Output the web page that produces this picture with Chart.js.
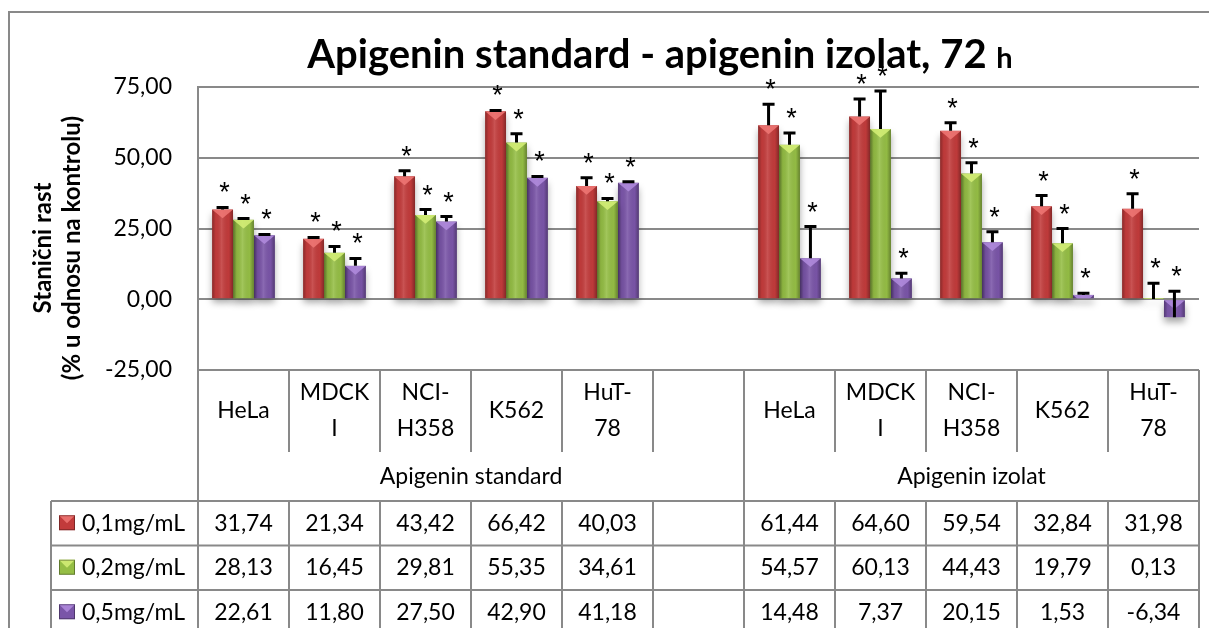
<!DOCTYPE html>
<html>
<head>
<meta charset="utf-8">
<script src="https://cdn.jsdelivr.net/npm/chart.js@4.4.1/dist/chart.umd.min.js"></script>
<style>
  html, body { margin: 0; padding: 0; background: #fff; }
  #wrap { width: 1209px; height: 628px; }
</style>
</head>
<body>
<div id="wrap"><canvas id="rastChart" width="1209" height="628"></canvas></div>
<script>
// --- podaci ---
const categories = ['HeLa', ['MDCK', 'I'], ['NCI-', 'H358'], 'K562', ['HuT-', '78'], '',
                    'HeLa', ['MDCK', 'I'], ['NCI-', 'H358'], 'K562', ['HuT-', '78']];
const groupLabels = ['Apigenin standard', 'Apigenin izolat'];
const groupSpans = [6, 5];
const seriesNames = ['0,1mg/mL', '0,2mg/mL', '0,5mg/mL'];

const values01 = [31.74, 21.34, 43.42, 66.42, 40.03, null, 61.44, 64.60, 59.54, 32.84, 31.98];
const values02 = [28.13, 16.45, 29.81, 55.35, 34.61, null, 54.57, 60.13, 44.43, 19.79, 0.13];
const values05 = [22.61, 11.80, 27.50, 42.90, 41.18, null, 14.48, 7.37, 20.15, 1.53, -6.34];

// standardna devijacija (procjena s grafa)
const err01 = [0.7, 0.5, 2.0, 0.3, 2.9, null, 7.5, 6.2, 2.8, 3.8, 5.3];
const err02 = [0.4, 2.2, 1.9, 3.1, 1.0, null, 4.2, 13.5, 3.8, 5.2, 5.5];
const err05 = [0.3, 2.6, 1.7, 0.5, 0.3, null, 11.2, 1.8, 3.7, 0.6, 9.2];

const yTicks = [-25, 0, 25, 50, 75];
const titleMain = 'Apigenin standard - apigenin izolat, 72 ';
const titleUnit = 'h';
const yTitle = ['Stanični rast', '(% u odnosu na kontrolu)'];

const FONT = 'Lato, "Open Sans", sans-serif';
const LINE = '#898989';

const fmt = v => v.toFixed(2).replace('.', ',');

// okvir, naslov i naslov osi
const chartFrame = {
    id: 'chartFrame',
    beforeDraw(chart) {
        const ctx = chart.ctx;
        ctx.save();
        ctx.fillStyle = '#fff';
        ctx.fillRect(0, 0, chart.width, chart.height);
        ctx.strokeStyle = LINE;
        ctx.lineWidth = 2;
        ctx.strokeRect(9, 12, chart.width + 100, chart.height + 100);

        ctx.fillStyle = '#000';
        ctx.textBaseline = 'alphabetic';
        ctx.font = 'bold 40px ' + FONT;
        const w1 = ctx.measureText(titleMain).width;
        ctx.font = 'bold 29px ' + FONT;
        const w2 = ctx.measureText(titleUnit).width;
        const x0 = 660 - (w1 + w2) / 2;
        ctx.font = 'bold 40px ' + FONT;
        ctx.fillText(titleMain, x0, 68);
        ctx.font = 'bold 29px ' + FONT;
        ctx.fillText(titleUnit, x0 + w1, 68);

        ctx.font = 'bold 24px ' + FONT;
        ctx.textAlign = 'center';
        ctx.textBaseline = 'middle';
        ctx.translate(0, 248);
        ctx.rotate(-Math.PI / 2);
        ctx.fillText(yTitle[0], 0, 43);
        ctx.fillText(yTitle[1], 0, 72);
        ctx.restore();
    }
};

// sjena, sjencanje stupaca, error barovi i zvjezdice
const barDecor = {
    id: 'barDecor',
    beforeDatasetDraw(chart) {
        const ctx = chart.ctx;
        ctx.shadowColor = 'rgba(0,0,0,0.35)';
        ctx.shadowBlur = 7;
        ctx.shadowOffsetY = 5;
    },
    afterDatasetDraw(chart) {
        const ctx = chart.ctx;
        ctx.shadowColor = 'rgba(0,0,0,0)';
        ctx.shadowBlur = 0;
        ctx.shadowOffsetY = 0;
    },
    afterDatasetsDraw(chart) {
        const ctx = chart.ctx;
        const yScale = chart.scales.y;
        chart.data.datasets.forEach((ds, di) => {
            const meta = chart.getDatasetMeta(di);
            meta.data.forEach((bar, i) => {
                const v = ds.data[i];
                if (v === null) return;
                const w = bar.width;
                const left = bar.x - w / 2;
                const top = Math.min(bar.y, bar.base);
                const h = Math.abs(bar.base - bar.y);

                ctx.save();
                ctx.beginPath();
                ctx.rect(left, top, w, Math.max(h, 0.5));
                ctx.clip();
                const g = ctx.createLinearGradient(left, 0, left + w, 0);
                g.addColorStop(0, 'rgba(0,0,0,0.30)');
                g.addColorStop(0.18, 'rgba(0,0,0,0.02)');
                g.addColorStop(0.45, 'rgba(255,255,255,0.12)');
                g.addColorStop(0.8, 'rgba(0,0,0,0.02)');
                g.addColorStop(1, 'rgba(0,0,0,0.32)');
                ctx.fillStyle = g;
                ctx.fillRect(left, top, w, h);
                // svijetli trokut na vrhu
                ctx.fillStyle = ds.bevelColor;
                ctx.beginPath();
                ctx.moveTo(left, top);
                ctx.lineTo(left + w, top);
                ctx.lineTo(bar.x, top + w * 0.42);
                ctx.closePath();
                ctx.fill();
                ctx.restore();

                // error bar (+)
                const e = ds.errors[i];
                const yv = yScale.getPixelForValue(v);
                const ye = yScale.getPixelForValue(v + e);
                ctx.save();
                ctx.strokeStyle = '#000';
                ctx.lineWidth = 3;
                ctx.beginPath();
                ctx.moveTo(bar.x, yv);
                ctx.lineTo(bar.x, ye);
                ctx.moveTo(bar.x - 6, ye);
                ctx.lineTo(bar.x + 6, ye);
                ctx.stroke();
                ctx.fillStyle = '#000';
                ctx.font = '27px "Liberation Sans", sans-serif';
                ctx.textAlign = 'center';
                ctx.textBaseline = 'alphabetic';
                ctx.fillText('*', bar.x + 2, ye - 6);
                ctx.restore();
            });
        });
    }
};

// tablica s podacima ispod grafa
const dataTable = {
    id: 'dataTable',
    afterDraw(chart) {
        const ctx = chart.ctx;
        const xs = chart.scales.x;
        const area = chart.chartArea;
        const step = xs.getPixelForValue(1) - xs.getPixelForValue(0);
        const edge = k => xs.getPixelForValue(0) - step / 2 + k * step;
        const n = categories.length;
        const top = area.bottom;
        const headBottom = top + 82;
        const groupBottom = headBottom + 49;
        const rowH = 44.5;
        const legendLeft = 51;
        const bottom = chart.height + 5;

        ctx.save();
        ctx.strokeStyle = LINE;
        ctx.lineWidth = 2;
        ctx.beginPath();
        // kategorije
        for (let k = 0; k <= n; k++) {
            ctx.moveTo(edge(k), top);
            ctx.lineTo(edge(k), headBottom);
        }
        // granice grupa
        let acc = 0;
        ctx.moveTo(edge(0), headBottom);
        ctx.lineTo(edge(0), bottom);
        groupSpans.forEach(s => {
            acc += s;
            ctx.moveTo(edge(acc), headBottom);
            ctx.lineTo(edge(acc), groupBottom);
        });
        // redovi podataka
        for (let r = 0; r <= seriesNames.length; r++) {
            const y = groupBottom + r * rowH;
            ctx.moveTo(legendLeft, y);
            ctx.lineTo(edge(n), y);
        }
        ctx.moveTo(legendLeft, groupBottom);
        ctx.lineTo(legendLeft, bottom);
        for (let k = 1; k <= n; k++) {
            ctx.moveTo(edge(k), groupBottom);
            ctx.lineTo(edge(k), bottom);
        }
        ctx.stroke();

        ctx.fillStyle = '#000';
        ctx.font = '23px ' + FONT;
        ctx.textAlign = 'center';
        ctx.textBaseline = 'middle';
        categories.forEach((c, k) => {
            const cx = xs.getPixelForValue(k);
            const lines = Array.isArray(c) ? c : [c];
            const mid = (top + headBottom) / 2;
            lines.forEach((t, j) => {
                ctx.fillText(t, cx, mid + (j - (lines.length - 1) / 2) * 36);
            });
        });
        acc = 0;
        groupLabels.forEach((g, gi) => {
            const cx = (edge(acc) + edge(acc + groupSpans[gi])) / 2;
            ctx.fillText(g, cx, (headBottom + groupBottom) / 2);
            acc += groupSpans[gi];
        });

        chart.data.datasets.forEach((ds, r) => {
            const cy = groupBottom + r * rowH + rowH / 2;
            ds.data.forEach((v, k) => {
                if (v === null) return;
                ctx.fillText(fmt(v), xs.getPixelForValue(k), cy);
            });
            // legenda
            const kx = 59, ky = cy - 8;
            ctx.fillStyle = ds.backgroundColor;
            ctx.fillRect(kx, ky, 16, 15);
            ctx.fillStyle = ds.bevelColor;
            ctx.beginPath();
            ctx.moveTo(kx, ky);
            ctx.lineTo(kx + 16, ky);
            ctx.lineTo(kx + 8, ky + 8);
            ctx.closePath();
            ctx.fill();
            ctx.strokeStyle = 'rgba(0,0,0,0.35)';
            ctx.lineWidth = 1;
            ctx.strokeRect(kx + 0.5, ky + 0.5, 15, 14);
            ctx.fillStyle = '#000';
            ctx.textAlign = 'left';
            ctx.fillText(ds.label, 82, cy);
            ctx.textAlign = 'center';
        });
        ctx.restore();
    }
};

new Chart(document.getElementById('rastChart').getContext('2d'), {
    type: 'bar',
    data: {
        labels: categories,
        datasets: [
            { label: seriesNames[0], data: values01, errors: err01,
              backgroundColor: '#c23b3b', bevelColor: 'rgba(240,120,118,0.85)' },
            { label: seriesNames[1], data: values02, errors: err02,
              backgroundColor: '#95be45', bevelColor: 'rgba(214,240,120,0.85)' },
            { label: seriesNames[2], data: values05, errors: err05,
              backgroundColor: '#7a55a8', bevelColor: 'rgba(178,140,222,0.85)' }
        ]
    },
    options: {
        responsive: false,
        animation: false,
        devicePixelRatio: 1,
        layout: { padding: { left: 0, top: 87, right: 10, bottom: 258 } },
        datasets: { bar: { categoryPercentage: 0.69, barPercentage: 1.0, borderWidth: 0 } },
        plugins: { legend: { display: false }, tooltip: { enabled: false } },
        scales: {
            x: { display: false },
            y: {
                min: yTicks[0],
                max: yTicks[yTicks.length - 1],
                afterFit: s => { s.width = 198; },
                afterBuildTicks: s => { s.ticks = yTicks.map(v => ({ value: v })); },
                grid: { color: LINE, lineWidth: 2, drawTicks: false },
                border: { display: true, color: LINE, width: 2 },
                ticks: {
                    padding: 26,
                    color: '#000',
                    font: { family: FONT, size: 23 },
                    callback: v => fmt(v)
                }
            }
        }
    },
    plugins: [chartFrame, barDecor, dataTable]
});
</script>
</body>
</html>
